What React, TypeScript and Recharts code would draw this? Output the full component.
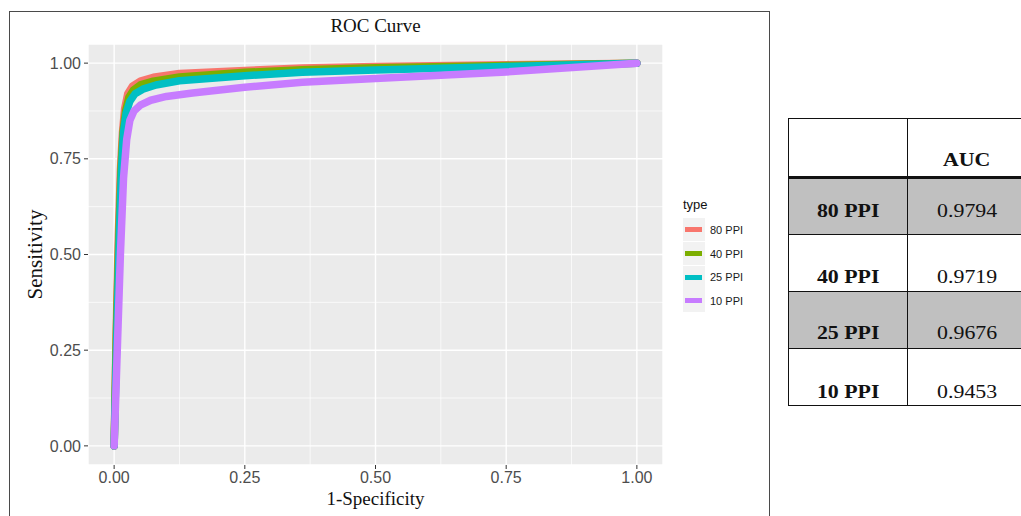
import React from 'react';
import { LineChart, Line, XAxis, YAxis, CartesianGrid, ReferenceLine, Legend, Label } from 'recharts';

// ROC points (false positive rate / true positive rate)
const fpr80 = [0, 0.004, 0.008, 0.012, 0.016, 0.02, 0.026, 0.035, 0.05, 0.075, 0.125, 0.25, 0.36, 0.5, 0.75, 1];
const tpr80 = [0, 0.3, 0.55, 0.72, 0.82, 0.88, 0.92, 0.94, 0.953, 0.963, 0.973, 0.981, 0.987, 0.991, 0.996, 1];

const fpr40 = [0, 0.004, 0.009, 0.013, 0.017, 0.022, 0.028, 0.037, 0.05, 0.075, 0.125, 0.25, 0.36, 0.5, 0.75, 1];
const tpr40 = [0, 0.28, 0.55, 0.72, 0.82, 0.875, 0.91, 0.93, 0.943, 0.953, 0.964, 0.976, 0.983, 0.988, 0.994, 1];

const fpr25 = [0, 0.005, 0.01, 0.014, 0.018, 0.023, 0.03, 0.04, 0.055, 0.08, 0.125, 0.25, 0.36, 0.5, 0.75, 1];
const tpr25 = [0, 0.28, 0.55, 0.72, 0.82, 0.87, 0.9, 0.92, 0.932, 0.943, 0.954, 0.967, 0.976, 0.982, 0.991, 1];

const fpr10 = [0, 0.006, 0.012, 0.018, 0.024, 0.03, 0.038, 0.05, 0.07, 0.1, 0.15, 0.25, 0.36, 0.5, 0.75, 1];
const tpr10 = [0, 0.25, 0.5, 0.7, 0.8, 0.85, 0.875, 0.89, 0.903, 0.913, 0.922, 0.937, 0.95, 0.96, 0.977, 1];

const seriesNames = ['80 PPI', '40 PPI', '25 PPI', '10 PPI'];
const seriesColors = ['#F8766D', '#7CAE00', '#00BFC4', '#C77CFF'];
const aucValues = ['0.9794', '0.9719', '0.9676', '0.9453'];

const majorTicks = [0, 0.25, 0.5, 0.75, 1];
const minorTicks = [0.125, 0.375, 0.625, 0.875];

const toPoints = (xs: number[], ys: number[]) => xs.map((x, i) => ({ x, y: ys[i] }));
const seriesData = [
  toPoints(fpr80, tpr80),
  toPoints(fpr40, tpr40),
  toPoints(fpr25, tpr25),
  toPoints(fpr10, tpr10),
];

const sans = '"Liberation Sans", Arial, sans-serif';
const serif = '"Liberation Serif", "Times New Roman", serif';

const renderLegend = () => (
  <div style={{ fontFamily: sans, width: 90 }}>
    <div style={{ fontSize: 13, lineHeight: '15px', height: 21, color: '#111' }}>type</div>
    {seriesNames.map((name, i) => (
      <div key={name} style={{ display: 'flex', alignItems: 'center', height: 23.7 }}>
        <div style={{ width: 22, height: 23, background: '#F2F2F2', position: 'relative' }}>
          <div
            style={{
              position: 'absolute',
              left: 2,
              right: 3,
              top: 9,
              height: 5,
              background: seriesColors[i],
            }}
          />
        </div>
        <span style={{ marginLeft: 5, fontSize: 11, color: '#1a1a1a' }}>{name}</span>
      </div>
    ))}
  </div>
);

const cellStyle = (shaded: boolean, padBottom: number): React.CSSProperties => ({
  height: 57,
  padding: `0 0 ${padBottom}px 0`,
  boxSizing: 'border-box',
  border: '1.5px solid #111',
  background: shaded ? '#C0C0C0' : '#fff',
  verticalAlign: 'bottom',
  textAlign: 'center',
  fontFamily: serif,
  fontSize: 19,
  lineHeight: '19px',
  color: '#111',
});

const Stretch: React.FC<{ children: React.ReactNode; bold?: boolean }> = ({ children, bold }) => (
  <span style={{ display: 'inline-block', transform: 'scaleX(1.15)', fontWeight: bold ? 'bold' : 'normal' }}>
    {children}
  </span>
);

const rowPads = [14, 5, 6, 4];

export default function App() {
  return (
    <div
      style={{
        position: 'absolute',
        left: 0,
        top: 0,
        width: 1021,
        height: 516,
        overflow: 'hidden',
        background: '#fff',
      }}
    >
      <div
        style={{
          position: 'absolute',
          left: 9,
          top: 11,
          width: 759,
          height: 520,
          borderLeft: '1.5px solid #4a4a4a',
          borderTop: '1.5px solid #4a4a4a',
          borderRight: '1.5px solid #4a4a4a',
        }}
      />
      <div
        style={{
          position: 'absolute',
          left: 88,
          top: 16,
          width: 575,
          textAlign: 'center',
          fontFamily: serif,
          fontSize: 19,
          lineHeight: '19px',
          color: '#111',
        }}
      >
        ROC Curve
      </div>

      <div style={{ position: 'absolute', left: 0, top: 0 }}>
        <LineChart width={770} height={516} margin={{ top: 44, right: 107, left: 0, bottom: 0 }}>
          <CartesianGrid fill="#EBEBEB" fillOpacity={1} stroke="#fff" strokeWidth={1.4} />
          {minorTicks.map((t) => (
            <ReferenceLine key={`vx${t}`} x={t} stroke="#fff" strokeWidth={0.7} />
          ))}
          {minorTicks.map((t) => (
            <ReferenceLine key={`hy${t}`} y={t} stroke="#fff" strokeWidth={0.7} />
          ))}
          <XAxis
            type="number"
            dataKey="x"
            domain={[-0.05, 1.05]}
            ticks={majorTicks}
            allowDataOverflow
            height={51}
            axisLine={false}
            tickLine={{ stroke: '#333' }}
            tickSize={4}
            tickMargin={3}
            tickFormatter={(v: number) => v.toFixed(2)}
            tick={{ fill: '#4D4D4D', fontSize: 16, fontFamily: sans }}
          >
            <Label
              content={({ viewBox }: any) => (
                <text
                  x={viewBox.x + viewBox.width / 2}
                  y={viewBox.y + 40}
                  textAnchor="middle"
                  fontFamily={serif}
                  fontSize={19}
                  fill="#111"
                >
                  1-Specificity
                </text>
              )}
            />
          </XAxis>
          <YAxis
            type="number"
            domain={[-0.05, 1.05]}
            ticks={majorTicks}
            allowDataOverflow
            width={88}
            axisLine={false}
            tickLine={{ stroke: '#333' }}
            tickSize={4}
            tickMargin={3}
            tickFormatter={(v: number) => v.toFixed(2)}
            tick={{ fill: '#4D4D4D', fontSize: 16, fontFamily: sans }}
          >
            <Label
              content={({ viewBox }: any) => {
                const cx = viewBox.x + 42;
                const cy = viewBox.y + viewBox.height / 2;
                return (
                  <text
                    x={cx}
                    y={cy}
                    transform={`rotate(-90, ${cx}, ${cy})`}
                    textAnchor="middle"
                    fontFamily={serif}
                    fontSize={21}
                    fill="#111"
                  >
                    Sensitivity
                  </text>
                );
              }}
            />
          </YAxis>
          {seriesData.map((pts, i) => (
            <Line
              key={seriesNames[i]}
              data={pts}
              dataKey="y"
              name={seriesNames[i]}
              type="linear"
              stroke={seriesColors[i]}
              strokeWidth={7.5}
              strokeLinecap="round"
              strokeLinejoin="round"
              dot={false}
              activeDot={false}
              isAnimationActive={false}
            />
          ))}
          <Legend
            layout="vertical"
            align="center"
            verticalAlign="middle"
            content={renderLegend}
            wrapperStyle={{ left: 683, top: 197, width: 90 }}
          />
        </LineChart>
      </div>

      <table
        style={{
          position: 'absolute',
          left: 788,
          top: 118,
          width: 252,
          borderCollapse: 'collapse',
          tableLayout: 'fixed',
        }}
      >
        <colgroup>
          <col style={{ width: 119 }} />
          <col style={{ width: 133 }} />
        </colgroup>
        <tbody>
          <tr>
            <td style={{ ...cellStyle(false, 7), height: 59, borderBottom: '3px solid #111' }} />
            <td style={{ ...cellStyle(false, 7), height: 59, borderBottom: '3px solid #111', paddingRight: 14 }}>
              <Stretch bold>AUC</Stretch>
            </td>
          </tr>
          {seriesNames.map((name, i) => (
            <tr key={name}>
              <td style={cellStyle(i % 2 === 0, rowPads[i])}>
                <Stretch bold>{name}</Stretch>
              </td>
              <td style={{ ...cellStyle(i % 2 === 0, rowPads[i]), paddingRight: 14 }}>
                <Stretch>{aucValues[i]}</Stretch>
              </td>
            </tr>
          ))}
        </tbody>
      </table>
    </div>
  );
}
